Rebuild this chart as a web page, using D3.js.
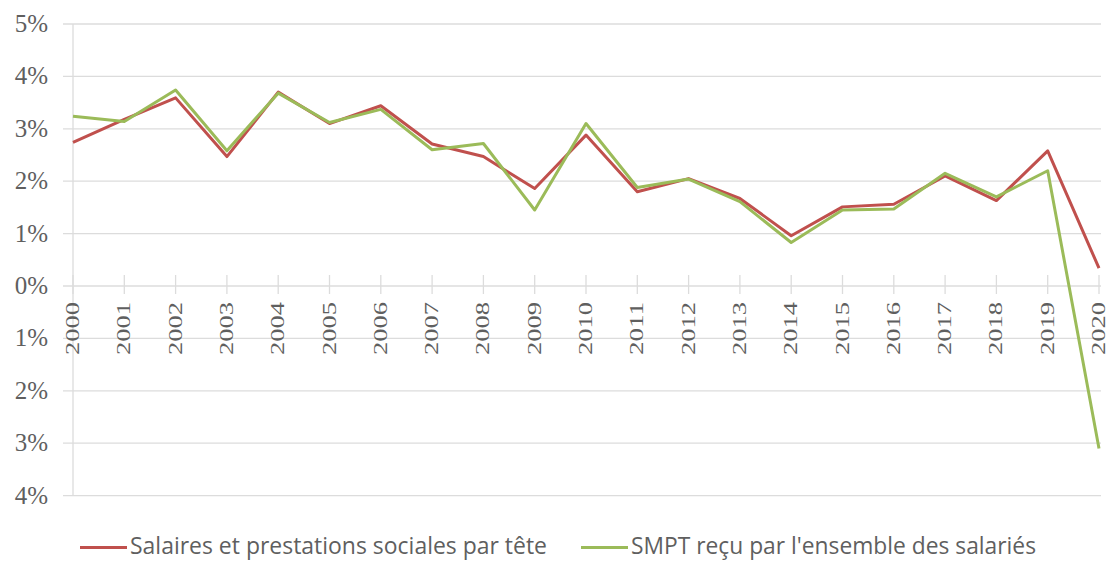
<!DOCTYPE html>
<html>
<head>
<meta charset="utf-8">
<script src="https://cdn.jsdelivr.net/npm/d3@7"></script>
<style>
  html, body { margin: 0; padding: 0; background: #fff; }
  svg { display: block; }
</style>
</head>
<body>
<div id="chart" style="width:1112px;height:563px"></div>
<script>
const years = d3.range(2000, 2021).map(String);
const salaires = [2.74, 3.18, 3.59, 2.47, 3.70, 3.10, 3.44, 2.71, 2.47, 1.86, 2.88, 1.80, 2.05, 1.67, 0.96, 1.51, 1.56, 2.10, 1.63, 2.58, 0.34];
const smpt = [3.24, 3.14, 3.74, 2.58, 3.68, 3.12, 3.37, 2.60, 2.72, 1.45, 3.10, 1.88, 2.04, 1.61, 0.83, 1.45, 1.47, 2.15, 1.70, 2.20, -3.10];
const yTicks = [5, 4, 3, 2, 1, 0, -1, -2, -3, -4];
const seriesNames = ["Salaires et prestations sociales par tête", "SMPT reçu par l'ensemble des salariés"];
const seriesColors = ["#c0504d", "#9bbb59"];

const width = 1112, height = 563;
const svg = d3.select("#chart").append("svg")
  .attr("width", width)
  .attr("height", height);

const x = d3.scalePoint().domain(years).range([73, 1099]);
const y = d3.scaleLinear().domain([-4, 5]).range([495.6, 24]);

// gridlines
svg.append("g")
  .selectAll("line")
  .data(yTicks)
  .join("line")
  .attr("x1", 63)
  .attr("x2", 1101)
  .attr("y1", (d) => y(d))
  .attr("y2", (d) => y(d))
  .attr("stroke", "#dcdcdc")
  .attr("stroke-width", 1.3);

// left vertical axis line
svg.append("line")
  .attr("x1", x(years[0]))
  .attr("x2", x(years[0]))
  .attr("y1", y(5))
  .attr("y2", y(-4))
  .attr("stroke", "#dcdcdc")
  .attr("stroke-width", 1.3);

// y labels
svg.append("g")
  .selectAll("text")
  .data(yTicks)
  .join("text")
  .attr("x", 48)
  .attr("y", (d) => y(d) + 8)
  .attr("text-anchor", "end")
  .attr("fill", "#5f5f5f")
  .attr("font-family", "Liberation Serif, serif")
  .attr("font-size", 25)
  .text((d) => Math.abs(d) + "%");

// x ticks crossing the zero line
svg.append("g")
  .selectAll("line")
  .data(years)
  .join("line")
  .attr("x1", (d) => x(d))
  .attr("x2", (d) => x(d))
  .attr("y1", y(0) - 11)
  .attr("y2", y(0) + 8)
  .attr("stroke", "#dcdcdc")
  .attr("stroke-width", 1.3);

// x labels, rotated
svg.append("g")
  .selectAll("text")
  .data(years)
  .join("text")
  .attr("transform", (d) => `translate(${x(d) + 6},302) rotate(-90)`)
  .attr("text-anchor", "end")
  .attr("fill", "#5f5f5f")
  .attr("font-family", "Liberation Serif, serif")
  .attr("font-size", 19)
  .attr("textLength", 53)
  .attr("lengthAdjust", "spacingAndGlyphs")
  .text((d) => d);

// lines
const line = d3.line()
  .x((d, i) => x(years[i]))
  .y((d) => y(d));

[salaires, smpt].forEach((vals, i) => {
  svg.append("path")
    .datum(vals)
    .attr("fill", "none")
    .attr("stroke", seriesColors[i])
    .attr("stroke-width", 3)
    .attr("stroke-linejoin", "round")
    .attr("d", line);
});

// legend
const legend = [
  { x1: 80, x2: 127, tx: 130, len: 417 },
  { x1: 581, x2: 628, tx: 631, len: 405 }
];
legend.forEach((l, i) => {
  svg.append("line")
    .attr("x1", l.x1).attr("x2", l.x2)
    .attr("y1", 547.5).attr("y2", 547.5)
    .attr("stroke", seriesColors[i])
    .attr("stroke-width", 3);
  svg.append("text")
    .attr("x", l.tx)
    .attr("y", 554)
    .attr("fill", "#5f5f5f")
    .attr("font-family", "Open Sans, sans-serif")
    .attr("font-size", 23)
    .attr("textLength", l.len)
    .attr("lengthAdjust", "spacingAndGlyphs")
    .text(seriesNames[i]);
});
</script>
</body>
</html>
